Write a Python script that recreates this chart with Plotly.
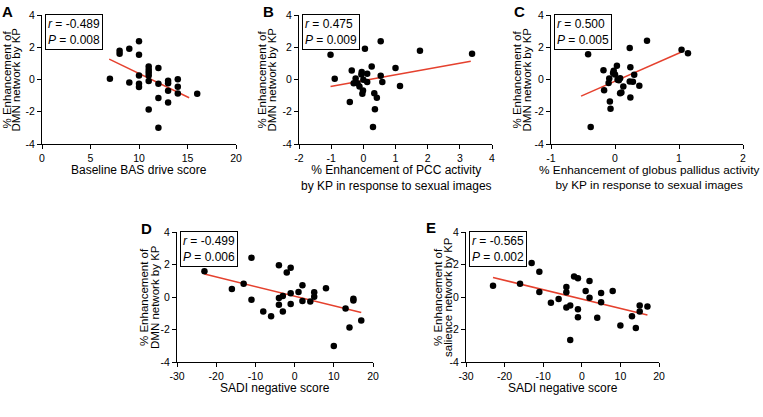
import plotly.graph_objects as go

W, H = 763, 417

# ---------------- data ----------------
A_x = [7, 8, 8, 9, 9, 10, 10, 10, 10, 10, 11, 11, 11, 11, 11, 11, 12, 12, 12, 12, 13, 13, 13, 13, 14, 14, 14, 16]
A_y = [0.05, 1.79, 1.59, 1.9, -0.19, 2.37, 1.53, 0.25, -0.27, -0.47, 0.8, 0.6, 0.43, 0.25, -0.1, -1.86,
       0.72, -0.27, -1.15, -2.99, -0.08, -0.23, -0.7, -1.42, 0.02, -0.45, -0.87, -0.89]
A_fit_x = [6.93, 15.17]
A_fit_y = [1.26, -1.13]

B_x = [-1.02, -0.89, -0.42, -0.36, -0.30, -0.24, -0.18, -0.12, -0.06, -0.05, -0.03, -0.01, 0.0, 0.05,
       0.12, 0.12, 0.26, 0.30, 0.34, 0.36, 0.42, 0.54, 0.54, 0.59, 1.0, 1.14, 1.76, 3.38]
B_y = [1.53, 0.04, -1.40, 0.56, -0.23, 0.06, -0.23, -0.43, 0.31, 0.47, -0.89, -0.68, -0.02, 1.90,
       0.35, -0.16, 0.80, -2.95, -0.85, -1.84, -1.13, 2.37, 0.23, -0.16, 0.72, -0.41, 1.79, 1.59]
B_fit_x = [-1.02, 3.34]
B_fit_y = [-0.43, 1.13]

C_x = [-0.42, -0.38, -0.18, -0.17, -0.10, -0.09, -0.08, -0.07, -0.03, -0.02, 0.0, 0.03, 0.04, 0.06,
       0.08, 0.08, 0.10, 0.13, 0.23, 0.23, 0.24, 0.24, 0.28, 0.30, 0.38, 0.50, 1.04, 1.14]
C_y = [1.57, -2.95, 0.58, -0.66, -0.21, 0.06, -1.36, -1.81, 0.41, 0.54, 0.31, 0.85, -0.02, -0.04,
       0.08, -0.85, -0.80, -0.43, 1.96, -0.12, 0.76, -1.11, -0.14, 0.29, -0.39, 2.41, 1.84, 1.63]
C_fit_x = [-0.53, 1.03]
C_fit_y = [-1.03, 1.69]

D_x = [-23, -16, -13, -11, -11, -8, -6, -4, -4, -4, -3, -3, -2, -1, -1, -1, 1, 2, 2, 4, 5, 5, 8, 10,
       13, 14, 15, 15, 17]
D_y = [1.59, 0.50, 0.81, 2.42, -0.17, -0.89, -1.18, 1.95, -0.06, -0.48, 0.06, -0.89, 1.51, 1.80, 0.23,
       -0.43, 0.31, 0.72, -0.25, -0.27, 0.29, 0.02, 0.54, -3.02, -0.70, -1.88, -0.10, -0.21, -1.45]
D_fit_x = [-23, 17]
D_fit_y = [1.41, -0.95]

E_x = [-23, -16, -13, -11, -11, -8, -6, -4, -4, -4, -3, -3, -2, -1, -1, -1, 1, 2, 2, 4, 5, 5, 8, 10,
       13, 14, 15, 15, 17]
E_y = [0.70, 0.82, 2.10, 1.55, 0.31, -0.35, -0.12, 0.62, 0.29, -0.64, -0.52, -2.64, 1.26, 1.15, -0.76,
       -1.24, 0.37, 0.99, -0.04, -1.28, 0.25, -0.33, 0.37, -1.75, -1.18, -1.90, -0.52, -0.89, -0.58]
E_fit_x = [-23, 17]
E_fit_y = [1.20, -1.11]

Y_TICKS = [-4, -2, 0, 2, 4]
A_xticks = [0, 5, 10, 15, 20]
B_xticks = [-2, -1, 0, 1, 2, 3, 4]
C_xticks = [-1, 0, 1, 2]
DE_xticks = [-30, -20, -10, 0, 10, 20]

stats = {
    "A": ("-0.489", "0.008"),
    "B": ("0.475", "0.009"),
    "C": ("0.500", "0.005"),
    "D": ("-0.499", "0.006"),
    "E": ("-0.565", "0.002"),
}

x_titles = {
    "A": "Baseline BAS drive score",
    "B": "% Enhancement of PCC activity<br>by KP in response to sexual images",
    "C": "% Enhancement of globus pallidus activity<br>by KP in response to sexual images",
    "D": "SADI negative score",
    "E": "SADI negative score",
}
y_titles = {
    "A": ["% Enhancement of", "DMN network by KP"],
    "B": ["% Enhancement of", "DMN network by KP"],
    "C": ["% Enhancement of", "DMN network by KP"],
    "D": ["% Enhancement of", "DMN network by KP"],
    "E": ["% Enhancement of", "salience network by KP"],
}

# ---------------- layout (pixel boxes) ----------------
FONT = "Liberation Sans, Arial, sans-serif"
panels = [
    # key, data x, data y, fit x, fit y, xticks, plot box (x0,x1,ytop,ybot), ytitle line centers,
    # x-title (center, font size), letter pos
    ("A", A_x, A_y, A_fit_x, A_fit_y, A_xticks, (42, 236, 15, 144), (6, 15), (139, 12), (0, 1)),
    ("B", B_x, B_y, B_fit_x, B_fit_y, B_xticks, (299, 492, 15, 144), (261, 271), (396, 12), (261, 1)),
    ("C", C_x, C_y, C_fit_x, C_fit_y, C_xticks, (551, 743, 15, 144), (516, 526), (649, 11.8), (512, 1)),
    ("D", D_x, D_y, D_fit_x, D_fit_y, DE_xticks, (177, 373, 232, 362), (144, 155), (275, 12), (139, 218)),
    ("E", E_x, E_y, E_fit_x, E_fit_y, DE_xticks, (466, 659, 232, 362), (438, 448), (563, 12), (424, 217)),
]

fig = go.Figure()
annotations = []
layout_axes = {}

for i, (key, xs, ys, fx, fy, xt, box, ytx, xtitle, letter) in enumerate(panels):
    n = "" if i == 0 else str(i + 1)
    xa, ya = "x" + n, "y" + n
    x0, x1, yt, yb = box
    fig.add_trace(go.Scatter(x=fx, y=fy, mode="lines", xaxis=xa, yaxis=ya,
                             line=dict(color="#e5412e", width=1.5), showlegend=False, hoverinfo="skip"))
    fig.add_trace(go.Scatter(x=xs, y=ys, mode="markers", xaxis=xa, yaxis=ya,
                             marker=dict(color="black", size=6.5), showlegend=False, cliponaxis=False))
    common = dict(showgrid=False, zeroline=False, showline=True, linecolor="black", linewidth=1,
                  ticks="outside", ticklen=4, tickwidth=1, tickcolor="black", automargin=False,
                  tickfont=dict(family=FONT, size=10.5, color="black"), fixedrange=True)
    layout_axes["xaxis" + n] = dict(common, domain=[x0 / W, x1 / W], anchor=ya,
                                    range=[xt[0], xt[-1]], tickvals=xt, ticktext=[str(v) for v in xt])
    layout_axes["yaxis" + n] = dict(common, domain=[1 - yb / H, 1 - yt / H], anchor=xa,
                                    range=[Y_TICKS[0], Y_TICKS[-1]], tickvals=Y_TICKS,
                                    ticktext=[str(v) for v in Y_TICKS])
    r, p = stats[key]
    annotations.append(dict(xref=xa + " domain", yref=ya + " domain", x=0, y=1, xshift=3, yshift=1,
                            xanchor="left", yanchor="top", align="left", showarrow=False,
                            text=f"<i>r</i> = {r}<br><i>P</i> = {p}",
                            font=dict(family=FONT, size=12, color="black"),
                            bordercolor="black", borderwidth=1, borderpad=2, bgcolor="white"))
    # x title
    annotations.append(dict(xref="paper", yref="paper", x=xtitle[0] / W, y=1 - (yb + 17) / H,
                            xanchor="center", yanchor="top", showarrow=False, text=x_titles[key],
                            font=dict(family=FONT, size=xtitle[1], color="black")))
    # y title (two rotated lines)
    for line_txt, cx in zip(y_titles[key], ytx):
        annotations.append(dict(xref="paper", yref="paper", x=cx / W, y=1 - (yt + yb) / 2 / H,
                                xanchor="center", yanchor="middle", showarrow=False, textangle=-90,
                                text=line_txt, font=dict(family=FONT, size=11.5, color="black")))
    # panel letter
    annotations.append(dict(xref="paper", yref="paper", x=letter[0] / W, y=1 - letter[1] / H,
                            xanchor="left", yanchor="top", showarrow=False, text=f"<b>{key}</b>",
                            font=dict(family=FONT, size=15, color="black")))

fig.update_layout(template="none", width=W, height=H, margin=dict(l=0, r=0, t=0, b=0, autoexpand=False),
                  paper_bgcolor="white", plot_bgcolor="white",
                  annotations=annotations, showlegend=False, **layout_axes)

fig.write_html("out.html", config={"displayModeBar": False},
               post_script="document.body.style.margin='0';document.body.style.padding='0';")
